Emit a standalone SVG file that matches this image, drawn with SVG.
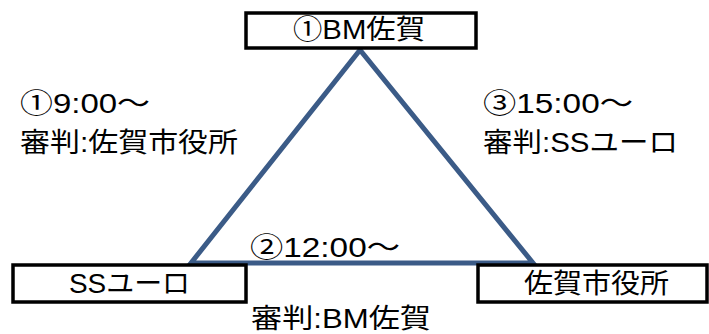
<svg xmlns="http://www.w3.org/2000/svg" width="709" height="334" viewBox="0 0 709 334">
<style>
text{font-family:"Liberation Sans","Noto Sans CJK JP",sans-serif;font-size:27px;fill:#000}
.box{fill:#fff;stroke:#000;stroke-width:3.5}
.edge{fill:none;stroke:#3B5B87;stroke-width:5;stroke-linejoin:miter}
</style>
<rect width="709" height="334" fill="#fff"/>
<g id="connectors">
<path class="edge" d="M191,263 L360,50 L533,263 Z"/>
<text x="250" y="257" textLength="150" lengthAdjust="spacingAndGlyphs">②12:00～</text>
<text x="251" y="328" textLength="180" lengthAdjust="spacingAndGlyphs">審判:BM佐賀</text>
<text x="20" y="113" textLength="130" lengthAdjust="spacingAndGlyphs">①9:00～</text>
<text x="20" y="152" textLength="218" lengthAdjust="spacingAndGlyphs">審判:佐賀市役所</text>
<text x="483" y="113" textLength="150" lengthAdjust="spacingAndGlyphs">③15:00～</text>
<text x="483" y="152" textLength="195" lengthAdjust="spacingAndGlyphs">審判:SSユーロ</text>
</g>
<g id="node-bm">
<rect class="box" x="246" y="13" width="230" height="35"/>
<text x="293" y="39" textLength="132" lengthAdjust="spacingAndGlyphs">①BM佐賀</text>
</g>
<g id="node-ss">
<rect class="box" x="13" y="265" width="233" height="37"/>
<text x="69" y="293" textLength="121" lengthAdjust="spacingAndGlyphs">SSユーロ</text>
</g>
<g id="node-city">
<rect class="box" x="478" y="265" width="229" height="37"/>
<text x="524" y="293" textLength="145" lengthAdjust="spacingAndGlyphs">佐賀市役所</text>
</g>
</svg>
